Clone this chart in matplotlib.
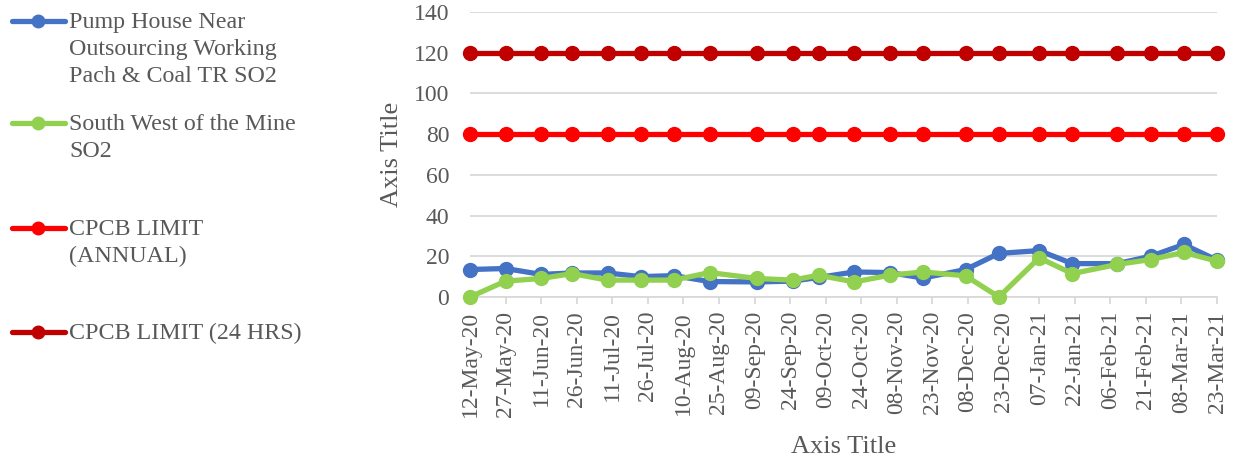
import matplotlib
matplotlib.use("Agg")
import matplotlib.pyplot as plt
import matplotlib.dates as mdates
from matplotlib.lines import Line2D
from datetime import datetime, timedelta

# ---------------- data ----------------
dates = ["2020-05-12", "2020-05-27", "2020-06-11", "2020-06-24", "2020-07-09",
         "2020-07-23", "2020-08-06", "2020-08-21", "2020-09-10", "2020-09-25",
         "2020-10-06", "2020-10-21", "2020-11-05", "2020-11-19", "2020-12-07",
         "2020-12-21", "2021-01-07", "2021-01-21", "2021-02-09", "2021-02-23",
         "2021-03-09", "2021-03-23"]
pump_house = [13.5, 14.0, 11.1, 11.8, 11.8, 10.0, 10.5, 7.6, 7.4, 7.8, 9.6,
              12.3, 12.0, 9.3, 13.5, 21.4, 22.8, 16.4, 16.4, 20.0, 25.8, 18.1]
south_west = [0.0, 7.8, 9.1, 11.5, 8.3, 8.3, 8.3, 12.0, 9.1, 8.3, 10.7,
              7.4, 10.7, 12.3, 10.4, 0.0, 19.2, 11.5, 16.0, 18.4, 21.9, 17.6]
cpcb_annual = [80] * len(dates)
cpcb_24hrs = [120] * len(dates)

series_labels = ["Pump House Near\nOutsourcing Working\nPach & Coal TR SO2",
                 "South West of the Mine\nSO2",
                 "CPCB LIMIT\n(ANNUAL)",
                 "CPCB LIMIT (24 HRS)"]
y_ticks = [0, 20, 40, 60, 80, 100, 120, 140]
x_tick_start = "2020-05-12"
x_tick_step_days = 15
x_tick_count = 22

# ---------------- style ----------------
plt.rcParams["font.family"] = ["Liberation Serif", "DejaVu Serif"]
TXT = "#595959"
GRID = "#d9d9d9"
colors = ["#4472C4", "#92D050", "#FF0000", "#C00000"]

W, H = 1240, 461
fig = plt.figure(figsize=(W / 100, H / 100), dpi=100)
L, R, T, B = 470, 1217, 12, 297
ax = fig.add_axes([L / W, 1 - B / H, (R - L) / W, (B - T) / H])

x = [datetime.strptime(d, "%Y-%m-%d") for d in dates]
series = [pump_house, south_west, cpcb_annual, cpcb_24hrs]
zorders = [3, 4, 3, 3]
for vals, c, z in zip(series, colors, zorders):
    ax.plot(x, vals, color=c, lw=3.8, marker="o", ms=10, clip_on=False,
            zorder=z, solid_capstyle="round")

t0 = datetime.strptime(x_tick_start, "%Y-%m-%d")
ticks = [t0 + timedelta(days=x_tick_step_days * i) for i in range(x_tick_count)]
ax.set_xlim(ticks[0], ticks[-1])
ax.set_xticks(ticks)
ax.xaxis.set_major_formatter(mdates.DateFormatter("%d-%b-%y"))
ax.set_ylim(0, 140)
ax.set_yticks(y_ticks)

ax.grid(axis="y", color=GRID, lw=1.3)
ax.set_axisbelow(True)
for s in ["top", "right", "left"]:
    ax.spines[s].set_visible(False)
ax.spines["bottom"].set_color(GRID)
ax.spines["bottom"].set_linewidth(1.3)

ax.tick_params(axis="x", direction="out", length=5, width=1.3, color=GRID,
               labelsize=17, labelcolor=TXT, pad=5, rotation=90)
ax.tick_params(axis="y", length=0, labelsize=17, labelcolor=TXT, pad=15)

ax.set_xlabel("Axis Title", fontsize=19, color=TXT, labelpad=14)
ax.set_ylabel("Axis Title", fontsize=19, color=TXT, labelpad=8)

# ---------------- legend (left column) ----------------
leg_y = [20.7, 123.3, 227.7, 331.7]
for lab, c, yy in zip(series_labels, colors, leg_y):
    yf = 1 - yy / H
    fig.add_artist(Line2D([12 / W, 65 / W], [yf, yf], color=c, lw=3.8,
                          solid_capstyle="round", transform=fig.transFigure))
    fig.add_artist(Line2D([38 / W], [yf], color=c, marker="o", ms=9,
                          transform=fig.transFigure))
    fig.text(69 / W, 1 - (yy - 9) / H, lab, fontsize=17.3, color=TXT,
             ha="left", va="top", linespacing=1.37,
             transform=fig.transFigure)
fig.savefig("out.png", dpi=100)
